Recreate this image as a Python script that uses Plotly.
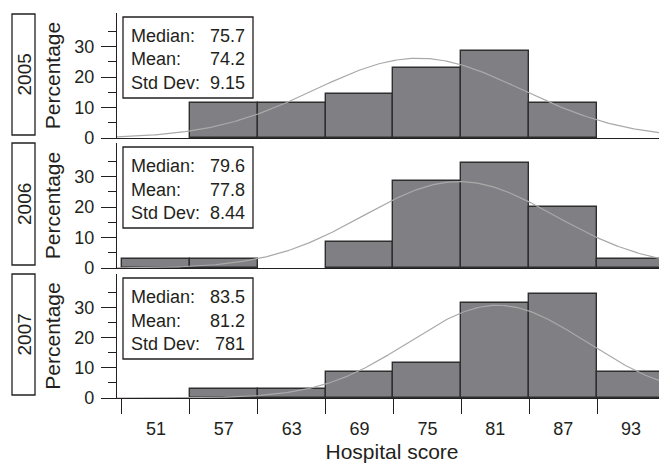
import numpy as np
import plotly.graph_objects as go

# ---- data ----
bin_centers = [51, 57, 63, 69, 75, 81, 87, 93]
bin_edges = [48, 54, 60, 66, 72, 78, 84, 90, 96]
years = ["2005", "2006", "2007"]
pct_2005 = [None, 11.43, 11.43, 14.29, 22.86, 28.57, 11.43, None]
pct_2006 = [2.86, 2.86, None, 8.57, 28.57, 34.29, 20.0, 2.86]
pct_2007 = [None, 2.86, 2.86, 8.57, 11.43, 31.43, 34.29, 8.57]
medians = ["75.7", "79.6", "83.5"]
means_txt = ["74.2", "77.8", "81.2"]
sd_txt = ["9.15", "8.44", "781"]
mean_vals = [74.2, 77.8, 81.2]
sd_vals = [9.15, 8.44, 7.81]
ytick_vals = [0, 10, 20, 30]
ytick_minor = [5, 15, 25, 35]

series = [pct_2005, pct_2006, pct_2007]

# page body has an 8px default margin; compensate
OFF = 8
W, H = 667 - OFF, 464 - OFF
L, R, T = 117 - OFF, 0, 13 - OFF
B = H - (398 - OFF)
PW = W - L - R
PH = H - T - B
XR = [47.56, 96.18]
YR = [0, 41]

def xp(px):
    return (px - OFF - L) / PW

def yp(py):
    return (H - B - (py - OFF)) / PH

panel_tops = [13, 143, 274]
panel_bots = [138, 268, 398]

txt = "#231f20"
font = "Liberation Sans, Arial, Helvetica, sans-serif"

fig = go.Figure()
rows = 3
for i in range(rows):
    ax = "" if i == 0 else str(i + 1)
    fig.add_trace(go.Bar(
        x=bin_centers, y=series[i], width=6,
        marker=dict(color="#808084", line=dict(color="#2e2e2e", width=1.4)),
        xaxis="x" + ax, yaxis="y" + ax, showlegend=False, hoverinfo="skip"))
    xs = np.linspace(XR[0], XR[1], 300)
    m, s = mean_vals[i], sd_vals[i]
    ys = 600.0 / (s * np.sqrt(2 * np.pi)) * np.exp(-0.5 * ((xs - m) / s) ** 2)
    fig.add_trace(go.Scatter(
        x=xs, y=ys, mode="lines", line=dict(color="#a9a9a9", width=1.2),
        xaxis="x" + ax, yaxis="y" + ax, showlegend=False, hoverinfo="skip"))

layout = dict(
    width=W, height=H, margin=dict(l=L, r=R, t=T, b=B, autoexpand=False),
    paper_bgcolor="white", plot_bgcolor="white",
    font=dict(family=font, color=txt), bargap=0,
)

for i in range(rows):
    ax = "" if i == 0 else str(i + 1)
    d0 = yp(panel_bots[i])
    d1 = yp(panel_tops[i])
    bottom = (i == rows - 1)
    xa = dict(
        domain=[0, 1], range=XR, anchor="y" + ax, showgrid=False, zeroline=False,
        showline=True, linecolor=txt, linewidth=1.3, automargin=False,
        fixedrange=True,
    )
    if bottom:
        xa.update(
            tickmode="array", tickvals=bin_centers, ticktext=[str(v) for v in bin_centers],
            ticks="outside", ticklen=14, tickcolor="rgba(0,0,0,0)",
            tickfont=dict(size=18, color=txt),
            minor=dict(tickmode="array", tickvals=bin_edges, ticks="outside",
                       ticklen=15, tickwidth=1.3, tickcolor=txt),
            title=dict(text="Hospital score", font=dict(size=21, color=txt), standoff=6),
        )
    else:
        xa.update(showticklabels=False, ticks="")
        xa["matches"] = "x" + str(rows)
    layout["xaxis" + ax] = xa
    layout["yaxis" + ax] = dict(
        domain=[d0, d1], range=YR, anchor="x" + ax, showgrid=False, zeroline=False,
        showline=True, linecolor=txt, linewidth=1.3, automargin=False,
        tickmode="array", tickvals=ytick_vals, ticks="outside", ticklen=15,
        tickwidth=1.3, tickcolor=txt, tickfont=dict(size=18, color=txt),
        ticklabelstandoff=3,
        minor=dict(tickmode="array", tickvals=ytick_minor, ticks="outside",
                   ticklen=8, tickwidth=1.3, tickcolor=txt),
        title=dict(text="Percentage", font=dict(size=21, color=txt), standoff=7),
        fixedrange=True,
    )

fig.update_layout(**layout)

shapes = []
annotations = []
for i in range(rows):
    top = panel_tops[i]
    # stats box
    shapes.append(dict(type="rect", xref="paper", yref="paper",
                       x0=xp(123), x1=xp(253), y0=yp(top + 4), y1=yp(top + 85),
                       line=dict(color=txt, width=1.3), fillcolor="white", layer="above"))
    labels = ["Median:", "Mean:", "Std Dev:"]
    vals = [medians[i], means_txt[i], sd_txt[i]]
    for k in range(3):
        cy = top + 23 + 23.5 * k
        annotations.append(dict(text=labels[k], xref="paper", yref="paper",
                                x=xp(129), y=yp(cy), xanchor="left", yanchor="middle",
                                showarrow=False, font=dict(size=18, color=txt)))
        annotations.append(dict(text=vals[k], xref="paper", yref="paper",
                                x=xp(247), y=yp(cy), xanchor="right", yanchor="middle",
                                showarrow=False, font=dict(size=18, color=txt)))
    # year label box
    yb0 = [14, 143, 274][i]
    yb1 = [135, 265, 395][i]
    shapes.append(dict(type="rect", xref="paper", yref="paper",
                       x0=xp(12), x1=xp(35), y0=yp(yb1), y1=yp(yb0),
                       line=dict(color=txt, width=1.3), fillcolor="white"))
    annotations.append(dict(text=years[i], xref="paper", yref="paper",
                            x=xp(24), y=yp((yb0 + yb1) / 2), xanchor="center",
                            yanchor="middle", textangle=-90, showarrow=False,
                            font=dict(size=19, color=txt)))

fig.update_layout(shapes=shapes, annotations=annotations)
fig.write_html("out.html")
